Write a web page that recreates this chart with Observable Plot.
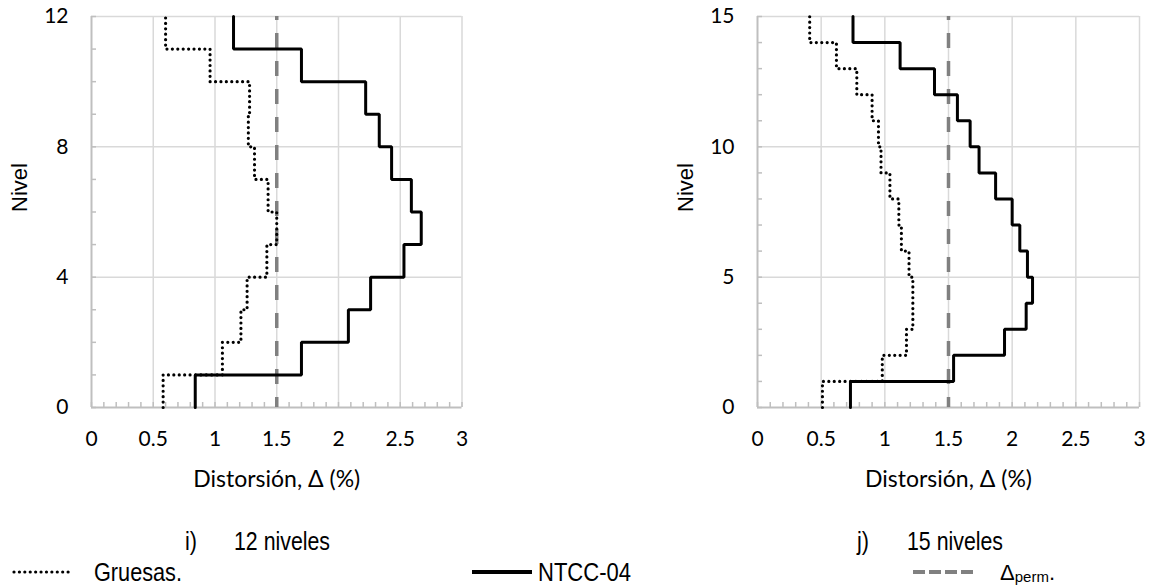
<!DOCTYPE html>
<html>
<head>
<meta charset="utf-8">
<script src="https://cdn.jsdelivr.net/npm/d3@7"></script>
<script src="https://cdn.jsdelivr.net/npm/@observablehq/plot@0.6"></script>
<style>
  html, body { margin: 0; padding: 0; background: #fff; }
  #wrap { position: relative; width: 1150px; height: 587px; overflow: hidden; background: #fff; }
  .chart { position: absolute; top: 0; }
  #overlay { position: absolute; left: 0; top: 0; }
</style>
</head>
<body>
<div id="wrap"></div>
<script>
// ---------------- data ----------------
const xTicks = [0, 0.5, 1, 1.5, 2, 2.5, 3];
const xTitle = "Distorsión, Δ (%)";
const yTitle = "Nivel";
const perm = 1.5;

// 12 niveles (i)
const levels12 = [1, 2, 3, 4, 5, 6, 7, 8, 9, 10, 11, 12];
const gruesas12 = [0.58, 1.06, 1.21, 1.26, 1.42, 1.50, 1.43, 1.32, 1.27, 1.28, 0.96, 0.60];
const ntcc12 = [0.84, 1.70, 2.08, 2.26, 2.53, 2.67, 2.59, 2.43, 2.33, 2.22, 1.70, 1.15];
const yTicks12 = [0, 4, 8, 12];

// 15 niveles (j)
const levels15 = [1, 2, 3, 4, 5, 6, 7, 8, 9, 10, 11, 12, 13, 14, 15];
const gruesas15 = [0.51, 0.98, 1.17, 1.22, 1.22, 1.19, 1.13, 1.11, 1.04, 0.97, 0.95, 0.90, 0.78, 0.62, 0.41];
const ntcc15 = [0.73, 1.54, 1.94, 2.11, 2.16, 2.12, 2.06, 2.00, 1.87, 1.74, 1.67, 1.57, 1.39, 1.12, 0.75];
const yTicks15 = [0, 5, 10, 15];

const captions = [
  {tag: "i)", text: "12 niveles"},
  {tag: "j)", text: "15 niveles"}
];
const legendLabels = ["Gruesas.", "NTCC-04", "Δ", "perm", "."];

// ---------------- drawing ----------------
const xMinor = d3.range(0, 31).map(i => i / 10);
const fmt = d => String(d);
const tickFont = "Lato, 'Open Sans', sans-serif";
const dotStyle = {stroke: "#000", strokeWidth: 3.2, strokeDasharray: "0.01,5.4", strokeLinecap: "round"};

function steps(levels, values) {
  const pts = [];
  values.forEach((v, i) => {
    pts.push({x: v, y: levels[i] - 1});
    pts.push({x: v, y: levels[i]});
  });
  return pts;
}

function drawChart({levels, gruesas, ntcc, yTicks, left, marginLeft, marginRight}) {
  const n = levels[levels.length - 1];
  const yMinor = [0, ...levels];
  const plot = Plot.plot({
    width: 490,
    height: 500,
    marginTop: 16,
    marginBottom: 93,
    marginLeft,
    marginRight,
    x: {domain: [0, 3]},
    y: {domain: [0, n]},
    style: {fontFamily: tickFont, fontSize: "21px", color: "#000", background: "transparent", overflow: "visible"},
    marks: [
      Plot.gridX(xTicks.slice(1), {stroke: "#d9d9d9", strokeOpacity: 1, strokeWidth: 1.5}),
      Plot.gridY(yTicks.slice(1), {stroke: "#d9d9d9", strokeOpacity: 1, strokeWidth: 1.5}),
      Plot.axisX(xMinor, {tickSize: -5, tickFormat: () => "", stroke: "#bfbfbf", strokeWidth: 1.5, label: null}),
      Plot.axisY(yMinor, {tickSize: -5, tickFormat: () => "", stroke: "#bfbfbf", strokeWidth: 1.5, label: null}),
      Plot.ruleY([0], {stroke: "#bfbfbf", strokeWidth: 2}),
      Plot.ruleX([0], {stroke: "#bfbfbf", strokeWidth: 2}),
      Plot.axisX(xTicks, {tickSize: 0, tickPadding: 24, label: null, fill: "#000", tickFormat: fmt, fontSize: 21}),
      Plot.axisY(yTicks, {tickSize: 0, tickPadding: 23, label: null, fill: "#000", tickFormat: fmt, fontSize: 21}),
      Plot.ruleX([perm], {y1: 0, y2: n, stroke: "#808080", strokeWidth: 3.5, strokeDasharray: "15,13", strokeDashoffset: 5}),
      Plot.line(steps(levels, gruesas), {x: "x", y: "y", ...dotStyle}),
      Plot.line(steps(levels, ntcc), {x: "x", y: "y", stroke: "#000", strokeWidth: 3, strokeLinejoin: "miter"}),
      Plot.text([xTitle], {frameAnchor: "bottom", lineAnchor: "bottom", dy: 79, fontSize: 23, fill: "#000"}),
      Plot.text([yTitle], {frameAnchor: "left", rotate: -90, dx: -72, fontFamily: "'Liberation Sans', Arial, sans-serif", fontSize: 22, fill: "#000"})
    ]
  });
  plot.classList.add("chart");
  plot.style.left = left + "px";
  document.getElementById("wrap").appendChild(plot);
}

drawChart({levels: levels12, gruesas: gruesas12, ntcc: ntcc12, yTicks: yTicks12, left: 0, marginLeft: 91, marginRight: 28.5});
drawChart({levels: levels15, gruesas: gruesas15, ntcc: ntcc15, yTicks: yTicks15, left: 660, marginLeft: 97, marginRight: 11});

// captions and legend
const svg = d3.select("#wrap").append("svg")
  .attr("id", "overlay").attr("width", 1150).attr("height", 587)
  .style("font-family", "'Liberation Sans', Arial, sans-serif")
  .style("font-size", "25px");

function squeezed(x, y, str, len) {
  return svg.append("text").attr("x", x).attr("y", y)
    .attr("textLength", len).attr("lengthAdjust", "spacingAndGlyphs").text(str);
}

const capPos = [{tx: 185, x: 234}, {tx: 857, x: 907}];
captions.forEach((c, i) => {
  squeezed(capPos[i].tx, 550, c.tag, 12);
  squeezed(capPos[i].x, 550, c.text, 96);
});

// Gruesas
svg.append("line").attr("x1", 14).attr("x2", 70).attr("y1", 572).attr("y2", 572)
  .attr("stroke", "#000").attr("stroke-width", 3.2).attr("stroke-dasharray", "0.01,5.4").attr("stroke-linecap", "round");
squeezed(94, 581, legendLabels[0], 88);
// NTCC-04
svg.append("line").attr("x1", 472).attr("x2", 532).attr("y1", 572).attr("y2", 572)
  .attr("stroke", "#000").attr("stroke-width", 4);
squeezed(538, 581, legendLabels[1], 93);
// Δperm.
svg.append("line").attr("x1", 913).attr("x2", 973).attr("y1", 572).attr("y2", 572)
  .attr("stroke", "#808080").attr("stroke-width", 4).attr("stroke-dasharray", "12,4");
const t = svg.append("text").attr("x", 1000).attr("y", 580).style("font-size", "22px");
t.append("tspan").text(legendLabels[2]);
t.append("tspan").attr("dy", 2).style("font-size", "15px").text(legendLabels[3]);
t.append("tspan").attr("dy", -2).text(legendLabels[4]);
</script>
</body>
</html>
